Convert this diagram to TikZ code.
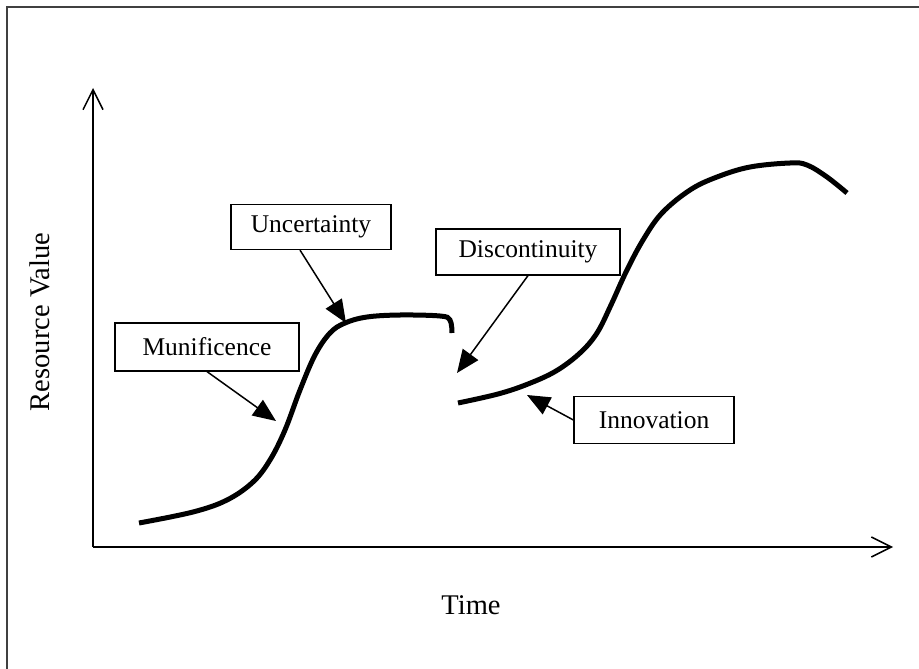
\documentclass[tikz,border=0pt]{standalone}
\usepackage{fontspec}
\setmainfont{Liberation Serif}
\usetikzlibrary{arrows.meta}
\usetikzlibrary{positioning}

\tikzset{
	labelbox/.style={draw, line width=1.2pt, fill=white, inner sep=0pt, font=\fontsize{25.5}{30}\selectfont},
	axislabel/.style={font=\fontsize{28.5}{34}\selectfont},
	axis/.style={line width=1.5pt, -{Straight Barb[length=20pt,width=20pt,line width=1.5pt]}},
	pointer/.style={line width=1.5pt, -{Triangle[length=23pt,width=19pt]}},
	trend/.style={line width=5pt},
}

\begin{document}
\begin{tikzpicture}[x=1pt, y=-1pt]
	\useasboundingbox (0,0) rectangle (919,669);
	
	% frame
	\draw[line width=2pt, black!75] (7,669) -- (7,7) -- (919,7);
	
	% axes
	\coordinate (origin) at (93,547);
	\coordinate (ytip) at (93,88);
	\coordinate (xtip) at (893,547);
	\draw[axis] (origin) -- (ytip);
	\draw[axis] (origin) -- (xtip);
	\node[axislabel, rotate=90] (ylab) at (40,322) {Resource Value};
	\node[axislabel] (xlab) at (471,605) {Time};
	
	% the two resource curves
	\draw[trend] plot[smooth, tension=0.6] coordinates {(139,523) (193,512) (227,500) (253,482) (270,460) (285,430) (300,390) (315,355) (330,333) (345,323) (367,317) (400,315) (440,316) (450,320) (452,333)};
	\draw[trend] plot[smooth, tension=0.6] coordinates {(458,403) (498,394) (528,384) (556,371) (580,353) (597,333) (611,305) (626,272) (643,240) (662,213) (690,190) (717,177) (750,167) (790,163) (807,165) (827,177) (847,193)};
	
	% labels
	\node[labelbox, minimum width=184pt, minimum height=48pt] (munif) at (207,347) {Munificence};
	\node[labelbox, minimum width=160pt, minimum height=45pt] (uncert) at (311,227) {Uncertainty};
	\node[labelbox, minimum width=184pt, minimum height=46pt] (discont) at (528,252) {Discontinuity};
	\node[labelbox, minimum width=160pt, minimum height=47pt] (innov) at (654,420) {Innovation};
	
	\coordinate (munif tip) at (276,421);
	\coordinate (uncert tip) at (346,323);
	\coordinate (discont tip) at (457,373);
	\coordinate (innov tip) at (527,395);
	
	\draw[pointer] (munif.south) -- (munif tip);
	\draw[pointer] ([xshift=-11pt]uncert.south) -- (uncert tip);
	\draw[pointer] (discont.south) -- (discont tip);
	\draw[pointer] (innov.west) -- (innov tip);
\end{tikzpicture}
\end{document}
